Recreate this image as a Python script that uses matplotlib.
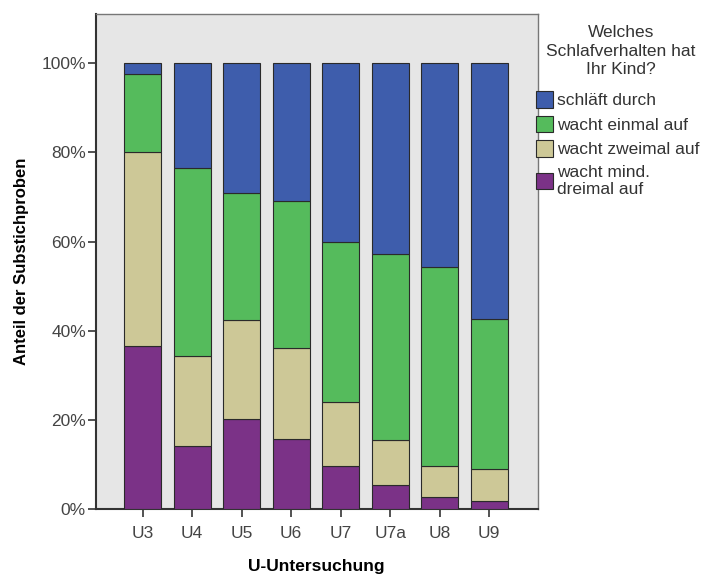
import numpy as np
import matplotlib
matplotlib.use('Agg')
import matplotlib.pyplot as plt

plt.rcParams['font.family'] = ['Liberation Sans', 'DejaVu Sans']

untersuchung = ['U3', 'U4', 'U5', 'U6', 'U7', 'U7a', 'U8', 'U9']
# percentage shares per category (bottom to top)
dreimal  = [36.5, 14.2, 20.2, 15.8, 9.7, 5.5, 2.8, 1.9]
zweimal  = [43.6, 20.2, 22.2, 20.4, 14.4, 10.0, 6.9, 7.2]
einmal   = [17.5, 42.0, 28.4, 32.9, 35.8, 41.7, 44.5, 33.6]
durch    = [2.4, 23.6, 29.2, 30.9, 40.1, 42.8, 45.8, 57.3]

labels = ['wacht mind.\ndreimal auf', 'wacht zweimal auf', 'wacht einmal auf', 'schläft durch']
colors = ['#7b3287', '#cdc897', '#55bb5c', '#3e5dac']

fig = plt.figure(figsize=(7.03, 5.74), dpi=100)
ax = fig.add_axes([0.136, 0.1127, 0.629, 0.863])
ax.set_facecolor('#e6e6e6')

x = np.arange(len(untersuchung))
bottom = np.zeros(len(untersuchung))
handles = []
for vals, lab, c in zip([dreimal, zweimal, einmal, durch], labels, colors):
    b = ax.bar(x, vals, 0.75, bottom=bottom, color=c, edgecolor='#2a2a2a',
               linewidth=0.8, label=lab, zorder=3)
    handles.append(b)
    bottom += np.array(vals)

ax.set_xlim(-0.95, 7.98)
ax.set_ylim(0, 111)
ax.set_yticks([0, 20, 40, 60, 80, 100])
ax.set_yticklabels(['0%', '20%', '40%', '60%', '80%', '100%'])
ax.set_xticks(x)
ax.set_xticklabels(untersuchung)
ax.tick_params(axis='both', labelsize=12.5, colors='#444444', length=6, width=1.3)
ax.tick_params(axis='y', pad=1)
ax.tick_params(axis='x', pad=6)

for s in ['left', 'bottom']:
    ax.spines[s].set_color('#333333')
    ax.spines[s].set_linewidth(1.5)
for s in ['top', 'right']:
    ax.spines[s].set_color('#777777')
    ax.spines[s].set_linewidth(1.0)

ax.set_ylabel('Anteil der Substichproben', fontsize=12, fontweight='bold', labelpad=9)
ax.set_xlabel('U-Untersuchung', fontsize=12.5, fontweight='bold', labelpad=13)

fig.text(621/703, 1 - 25/574, 'Welches\nSchlafverhalten hat\nIhr Kind?', ha='center',
         va='top', fontsize=12.5, color='#333333', linespacing=1.3, multialignment='center')

leg = ax.legend(handles[::-1], labels[::-1], loc='upper left',
                bbox_to_anchor=(536/703, 1 - 91/574), bbox_transform=fig.transFigure,
                frameon=False, fontsize=12.5, handlelength=1.0, handleheight=1.1,
                handletextpad=0.2, labelspacing=0.42, borderaxespad=0, borderpad=0)
for t in leg.get_texts():
    t.set_color('#333333')

fig.savefig('out.png', dpi=100)
